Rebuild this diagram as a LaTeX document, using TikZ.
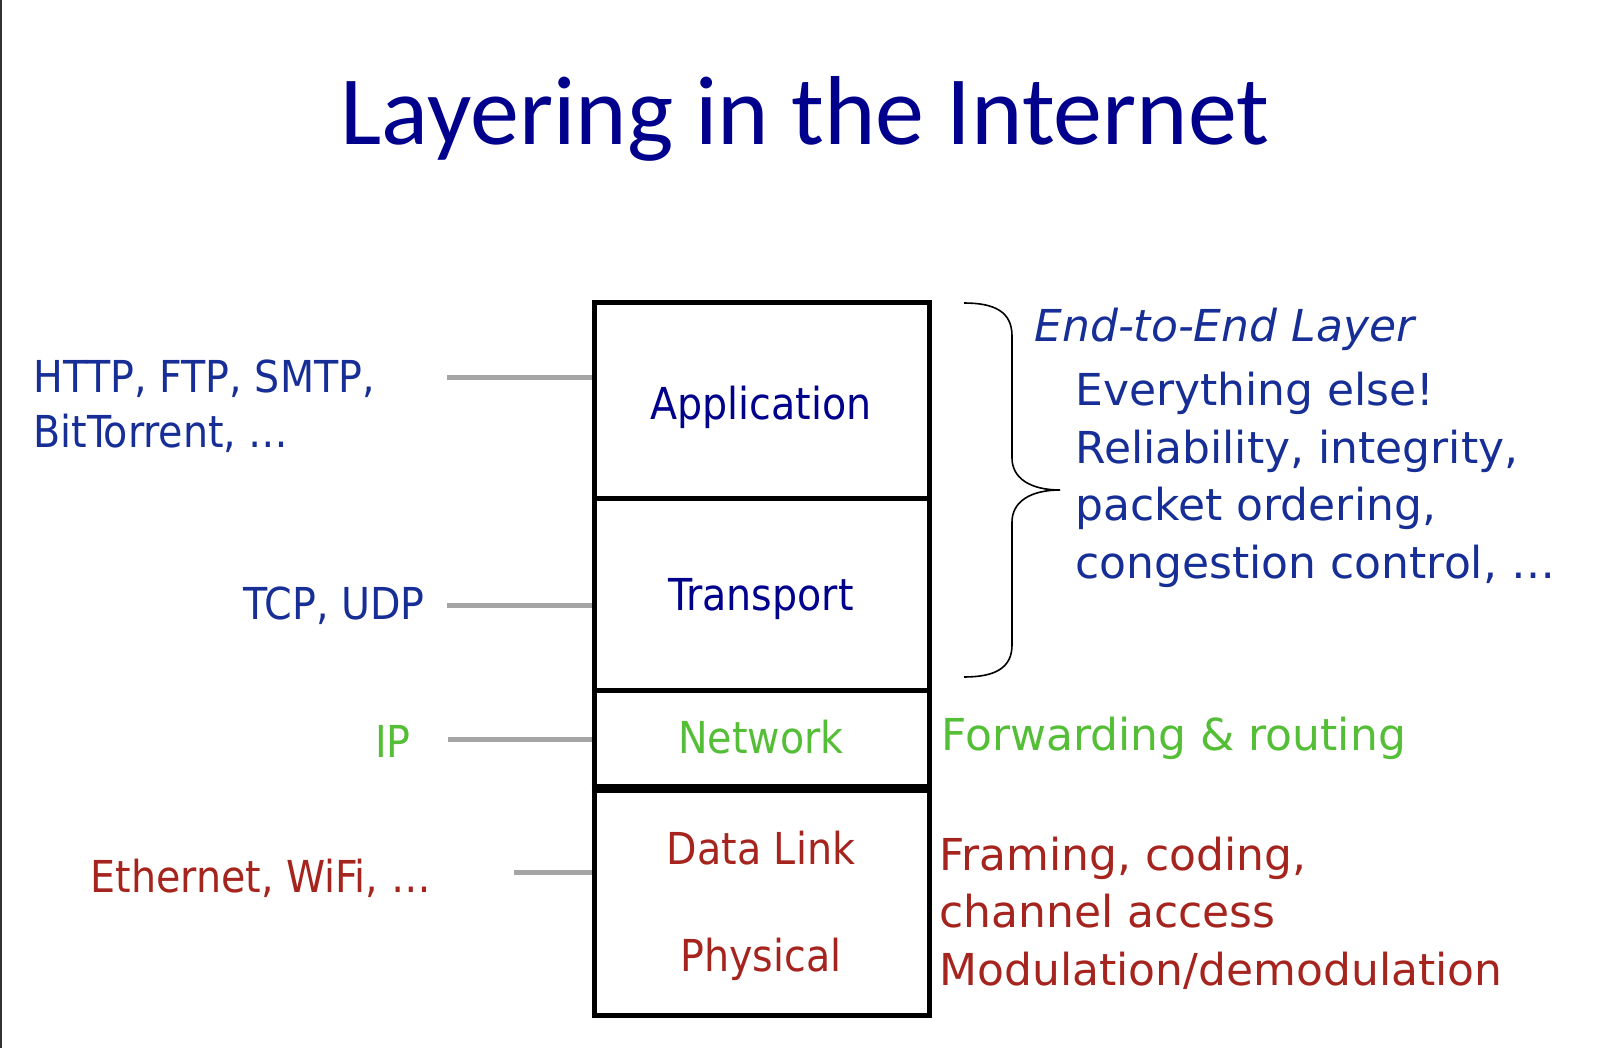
\documentclass[tikz,border=0pt]{standalone}
\usepackage{fontspec}
\setmainfont{DejaVu Sans Condensed}
\newfontfamily\widefont{DejaVu Sans}
\newfontfamily\titlefont{Carlito}
\begin{document}
\definecolor{titleblue}{RGB}{0,0,140}
\definecolor{labelblue}{RGB}{22,46,150}
\definecolor{netgreen}{RGB}{85,190,55}
\definecolor{linkred}{RGB}{166,36,30}
\definecolor{tickgray}{RGB}{165,165,165}
\begin{tikzpicture}[x=0.5pt,y=-0.5pt,
  layerbox/.style={draw=black,line width=2.5pt,rectangle,inner sep=0pt,minimum width=167.5pt},
  body/.style={font=\fontsize{22}{26}\selectfont,inner sep=0pt},
  note/.style={font=\widefont\fontsize{22}{26}\selectfont,inner sep=0pt,anchor=base west},
  tick/.style={draw=tickgray,line width=2.5pt},
  brace/.style={draw=black,line width=0.8pt}]
\useasboundingbox (0,0) rectangle (1602,1048);
% thin frame line on the left edge
\draw[line width=0.75pt,draw=black!80] (0.75,0) -- (0.75,1048);

% title
\node[anchor=base,inner sep=0pt,text=titleblue,font=\titlefont\fontsize{49}{52}\selectfont] (title) at (805,145) {Layering in the Internet};

% the layer stack
\node[layerbox,minimum height=97.5pt] (app) at (761.5,400.5) {};
\node[layerbox,minimum height=96pt] (trans) at (761.5,594) {};
\node[layerbox,minimum height=48pt] (net) at (761.5,738) {};
\node[layerbox,minimum height=114.5pt] (phy) at (761.5,900.5) {};
\draw[line width=4.5pt] (net.south west) -- (net.south east);

\node[body,anchor=base,text=titleblue] (appt) at (761,420) {Application};
\node[body,anchor=base,text=titleblue] (transt) at (761,610) {Transport};
\node[body,anchor=base,text=netgreen] (nett) at (761,753) {Network};
\node[body,anchor=base,text=linkred] (dlt) at (761,864) {Data Link};
\node[body,anchor=base,text=linkred] (phyt) at (761,971) {Physical};

% protocol labels on the left
\node[body,anchor=base west,text=labelblue] (http) at (33,393) {HTTP, FTP, SMTP,};
\node[body,anchor=base west,text=labelblue] (bt) at (33,447) {BitTorrent, …};
\node[body,anchor=base east,text=labelblue] (tcp) at (425,619) {TCP, UDP};
\node[body,anchor=base east,text=netgreen] (ip) at (411,757) {IP};
\node[body,anchor=base east,text=linkred] (eth) at (431,892) {Ethernet, WiFi, …};

% ticks joining the labels to the stack
\coordinate (ta) at (447,378);
\coordinate (tt) at (447,605);
\coordinate (ti) at (448,739);
\coordinate (te) at (514,872.5);
\draw[tick] (ta) -- (ta -| app.west);
\draw[tick] (tt) -- (tt -| trans.west);
\draw[tick] (ti) -- (ti -| net.west);
\draw[tick] (te) -- (te -| phy.west);

% brace over the end-to-end layers
\coordinate (btop) at (964,303);
\coordinate (btip) at (1060,490);
\coordinate (bbot) at (964,677);
\draw[brace] (btop) .. controls (995,303) and (1012,312) .. (1012,336)
  -- (1012,458) .. controls (1012,478) and (1030,490) .. (btip)
  .. controls (1030,490) and (1012,502) .. (1012,522)
  -- (1012,645) .. controls (1012,668) and (995,677) .. (bbot);

% descriptions on the right
\node[note,text=labelblue,font=\widefont\fontsize{22}{26}\selectfont\itshape] (e2e) at (1034,342) {End-to-End Layer};
\node[note,text=labelblue] (r1) at (1075,406) {Everything else!};
\node[note,text=labelblue] (r2) at (1075,463) {Reliability, integrity,};
\node[note,text=labelblue] (r3) at (1075,520) {packet ordering,};
\node[note,text=labelblue] (r4) at (1075,578) {congestion control, …};
\node[note,text=netgreen] (fw) at (941,750) {Forwarding \& routing};
\node[note,text=linkred] (fr1) at (939,870) {Framing, coding,};
\node[note,text=linkred] (fr2) at (939,927) {channel access};
\node[note,text=linkred] (fr3) at (939,985) {Modulation/demodulation};
\end{tikzpicture}
\end{document}
